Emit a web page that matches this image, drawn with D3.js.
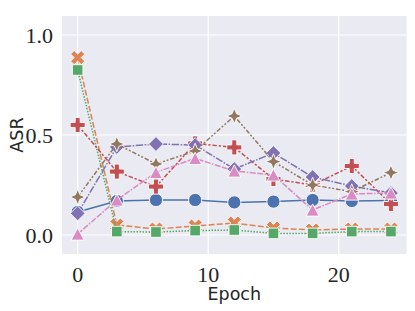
<!DOCTYPE html>
<html>
<head>
<meta charset="utf-8">
<script src="https://cdn.jsdelivr.net/npm/d3@7"></script>
<style>
body { margin: 0; background: #fff; }
svg { display: block; }
</style>
</head>
<body>
<svg id="chart" width="415" height="311"></svg>
<script>
var epochs = [0, 3, 6, 9, 12, 15, 18, 21, 24];
var seriesNames = ["s1", "s2", "s3", "s4", "s5", "s6", "s7"];
var s1 = [0.115, 0.17, 0.175, 0.175, 0.163, 0.167, 0.175, 0.17, 0.172];
var s2 = [0.887, 0.05, 0.03, 0.045, 0.06, 0.035, 0.025, 0.03, 0.03];
var s3 = [0.825, 0.017, 0.015, 0.022, 0.025, 0.008, 0.008, 0.017, 0.017];
var s4 = [0.55, 0.317, 0.242, 0.458, 0.438, 0.28, 0.25, 0.345, 0.155];
var s5 = [0.108, 0.44, 0.455, 0.45, 0.33, 0.41, 0.29, 0.245, 0.21];
var s6 = [0.19, 0.455, 0.355, 0.42, 0.595, 0.367, 0.25, 0.217, 0.312];
var s7 = [0.005, 0.175, 0.313, 0.383, 0.32, 0.30, 0.125, 0.205, 0.21];
var xTicks = [0, 10, 20];
var yTicks = [0.0, 0.5, 1.0];

var allSeries = [s1, s2, s3, s4, s5, s6, s7];
var colors = ["#4C72B0", "#DD8452", "#55A868", "#C44E52", "#8172B3", "#937860", "#DA8BC3"];
var lw = 1.5;
var dashes = [null, [4, 1.5], [1, 1], [3, 1.25, 1.5, 1.25], [5, 1, 1, 1],
  [3, 1.25, 1.25, 1.25, 1.25, 1.25], [4, 1, 4, 1, 1, 1]];
var markers = ["circle", "x", "square", "plus", "diamond", "star", "triangle"];

var svg = d3.select("#chart");
var padL = 62, padT = 16, plotW = 344.6, plotH = 238;

var x = d3.scaleLinear().domain([-1.2, 25.2]).range([padL, padL + plotW]);
var y = d3.scaleLinear().domain([-0.095, 1.095]).range([padT + plotH, padT]);

svg.append("rect").attr("x", padL).attr("y", padT).attr("width", plotW).attr("height", plotH).attr("fill", "#EAEAF2");

// grid
svg.append("g").selectAll("line").data(xTicks).join("line")
  .attr("x1", d => x(d)).attr("x2", d => x(d)).attr("y1", padT).attr("y2", padT + plotH)
  .attr("stroke", "#fff").attr("stroke-width", 1.2);
svg.append("g").selectAll("line").data(yTicks).join("line")
  .attr("x1", padL).attr("x2", padL + plotW).attr("y1", d => y(d)).attr("y2", d => y(d))
  .attr("stroke", "#fff").attr("stroke-width", 1.2);

// tick labels
var serif = "'Liberation Serif', 'DejaVu Serif', serif";
var sans = "'DejaVu Sans', sans-serif";
svg.append("g").selectAll("text").data(xTicks).join("text")
  .attr("x", d => x(d)).attr("y", 282).attr("text-anchor", "middle")
  .attr("font-family", serif).attr("font-size", 22).attr("fill", "#262626")
  .text(d => d);
svg.append("g").selectAll("text").data(yTicks).join("text")
  .attr("x", 53).attr("y", d => y(d) + 7.5).attr("text-anchor", "end")
  .attr("font-family", serif).attr("font-size", 22).attr("fill", "#262626")
  .text(d => d.toFixed(1));

svg.append("text").attr("x", x(12)).attr("y", 300).attr("text-anchor", "middle")
  .attr("font-family", sans).attr("font-size", 17.5).attr("fill", "#262626").text("Epoch");
svg.append("text").attr("transform", "translate(23," + (padT + plotH / 2) + ") rotate(-90)")
  .attr("text-anchor", "middle")
  .attr("font-family", sans).attr("font-size", 17.5).attr("fill", "#262626").text("ASR");

// marker paths centred on 0,0
function poly(pts) { return "M" + pts.map(p => p[0].toFixed(2) + "," + p[1].toFixed(2)).join("L") + "Z"; }
function plusPts(s, rot) {
  var a = s / 2, b = s / 6;
  var pts = [[-b, -a], [b, -a], [b, -b], [a, -b], [a, b], [b, b], [b, a], [-b, a], [-b, b], [-a, b], [-a, -b], [-b, -b]];
  if (rot) {
    var c = Math.cos(rot), sn = Math.sin(rot);
    pts = pts.map(p => [p[0] * c - p[1] * sn, p[0] * sn + p[1] * c]);
  }
  return pts;
}
function markerPath(kind) {
  switch (kind) {
    case "circle": return d3.symbol(d3.symbolCircle, Math.PI * 6.6 * 6.6)();
    case "x": return poly(plusPts(15, Math.PI / 4));
    case "square": return poly([[-5.3, -5.3], [5.3, -5.3], [5.3, 5.3], [-5.3, 5.3]]);
    case "plus": return poly(plusPts(15, 0));
    case "diamond": return poly([[0, -7.4], [7.4, 0], [0, 7.4], [-7.4, 0]]);
    case "star":
      var R = 7.8, r = 3.2, pts = [];
      for (var i = 0; i < 8; i++) {
        var ang = -Math.PI / 2 + i * Math.PI / 4, rr = i % 2 ? r : R;
        pts.push([rr * Math.cos(ang), rr * Math.sin(ang)]);
      }
      return poly(pts);
    case "triangle": return poly([[0, -7.2], [7.2, 7.2], [-7.2, 7.2]].map(p => [p[0] * 0.9, p[1] * 0.85]));
  }
}

var line = d3.line().x((d, i) => x(epochs[i])).y(d => y(d));

allSeries.forEach(function (vals, k) {
  var g = svg.append("g").attr("class", "series " + seriesNames[k]);
  g.append("path").datum(vals).attr("d", line)
    .attr("fill", "none").attr("stroke", colors[k]).attr("stroke-width", lw)
    .attr("stroke-dasharray", dashes[k] ? dashes[k].map(v => v * lw).join(",") : null);
  var mp = markerPath(markers[k]);
  g.selectAll("path.m").data(vals).join("path").attr("class", "m")
    .attr("d", mp)
    .attr("transform", (d, i) => "translate(" + x(epochs[i]) + "," + y(d) + ")")
    .attr("fill", colors[k]).attr("stroke", "#fff").attr("stroke-width", 0.9);
});
</script>
</body>
</html>
